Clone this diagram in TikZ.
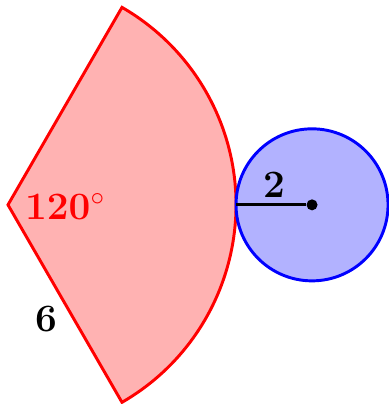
\RequirePackage{fix-cm}
\documentclass[tikz,border=0pt]{standalone}
\begin{document}
\begin{tikzpicture}[
        sector/.style={draw=red, fill=red!30, line width=2.2pt, line join=miter},
        disc/.style={draw=blue, fill=blue!30, line width=2.2pt},
        lbl/.style={font=\fontsize{29}{35}\selectfont\bfseries},
        dot/.style={circle, fill=black, inner sep=0pt, minimum size=0.29cm}
        ]
      \useasboundingbox (-0.21,-5.24) rectangle (10.0,5.39);
      \coordinate (o) at (0,0);
      \coordinate (a) at (-60:6);
      \coordinate (b) at (60:6);
      \draw[sector] (o) -- (a) arc[start angle=-60, end angle=60, radius=6] -- cycle;
      \draw[disc] (8,0) circle[radius=2];
      \node[dot] (c) at (8,0) {};
      \coordinate (t) at (6,0);
      \draw[line width=2.2pt] (t) -- (c);

      \node[lbl, text=red] (ang) at (1.5,-0.05) {$\mathbf{120^\circ}$};
      \node[lbl] (r2) at (7,0.53) {2};
      \node[lbl] (r6) at (1,-3) {6};

    \end{tikzpicture}
\end{document}
